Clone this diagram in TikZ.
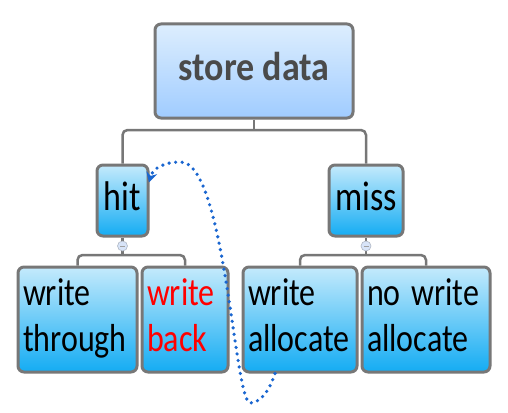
\documentclass[tikz,border=0pt]{standalone}
\usepackage{fontspec}
\setmainfont{Carlito}
\usepackage{graphicx}
\usetikzlibrary{arrows.meta}
\definecolor{boxline}{HTML}{777777}
\definecolor{rootTop}{HTML}{DDEEFE}
\definecolor{rootBot}{HTML}{A0CCFF}
\definecolor{leafTop}{HTML}{C4EAFC}
\definecolor{leafBot}{HTML}{14ACF3}
\definecolor{markFill}{HTML}{D8E4F8}
\definecolor{linkBlue}{HTML}{1A66D0}
\definecolor{rootText}{HTML}{4A4A4A}
\newcommand{\tallText}[2][1.22]{\scalebox{1}[#1]{\begin{tabular}{@{}l@{}}#2\end{tabular}}}
\tikzset{
  topic/.style={draw=boxline, line width=3pt, rounded corners=6pt,
                top color=leafTop, bottom color=leafBot,
                inner sep=0pt, minimum height=71pt},
  rootbox/.style={topic, top color=rootTop, bottom color=rootBot,
                  minimum width=198pt, minimum height=94pt,
                  text=rootText, font=\fontsize{36}{42}\selectfont\bfseries},
  leaf/.style={topic, minimum height=105pt, inner xsep=5pt, align=left,
               font=\fontsize{32}{38}\selectfont},
  branch/.style={draw=boxline, line width=2.5pt, rounded corners=5pt},
  collapse/.style={circle, draw=markFill!60!boxline, fill=markFill, line width=0.6pt,
                   minimum size=10pt, inner sep=0pt,
                   path picture={\draw[boxline!70, line width=0.8pt]
                     ([xshift=-2.5pt]path picture bounding box.center) --
                     ([xshift=2.5pt]path picture bounding box.center);}}
}
\begin{document}
\begin{tikzpicture}[x=1pt, y=-1pt]
	\useasboundingbox (0,0) rectangle (508,412);

	% boxes
	\node[rootbox] (root) at (254,71) {\tallText[1.12]{store data}};

	\node[topic, minimum width=51pt, font=\fontsize{34}{40}\selectfont] (hit) at (122.5,200.5) {\tallText{hit}};
	\node[topic, minimum width=74pt, font=\fontsize{34}{40}\selectfont] (miss) at (366,200.5) {\tallText{miss}};

	\node[leaf, text width=109pt] (wt) at (77.5,319.5) {\tallText{write\\through}};
	\node[leaf, text width=76pt, text=red] (wb) at (185,319.5) {\tallText{write\\back}};
	\node[leaf, text width=104pt] (wa) at (300,319.5) {\tallText{write\\allocate}};
	\node[leaf, text width=118pt] (nwa) at (426,319.5) {\tallText{no write\\allocate}};

	% tree lines
	\coordinate (rootJoin) at (254,130);
	\coordinate (hitJoin) at (122.5,255);
	\coordinate (missJoin) at (366,255);

	\draw[branch] (root.south) -- (rootJoin);
	\draw[branch] (hit.north) |- (rootJoin) -| (miss.north);
	\draw[branch] (hit.south) -- (hitJoin);
	\draw[branch] (wt.north) |- (hitJoin) -| (wb.north);
	\draw[branch] (miss.south) -- (missJoin);
	\draw[branch] (wa.north) |- (missJoin) -| (nwa.north);

	\node[collapse] (hitMark) at (122.5,246) {};
	\node[collapse] (missMark) at (366,246) {};

	% dotted link from write allocate back to hit
	\coordinate (linkStart) at ([xshift=-25pt]wa.south);
	\coordinate (linkLow) at (250,403);
	\coordinate (linkTop) at (180,162);
	\draw[linkBlue, line width=3.6pt, line cap=round, dash pattern=on 0pt off 6.6pt,
	      -{Stealth[length=10pt, width=11pt, line cap=butt, sep=-2pt]}]
		(linkStart) .. controls (268,395) and (258,403) .. (linkLow)
		.. controls (234,400) and (225,160) .. (linkTop)
		.. controls (165,162) and (153,168) .. ([yshift=20pt]hit.east);

\end{tikzpicture}
\end{document}
